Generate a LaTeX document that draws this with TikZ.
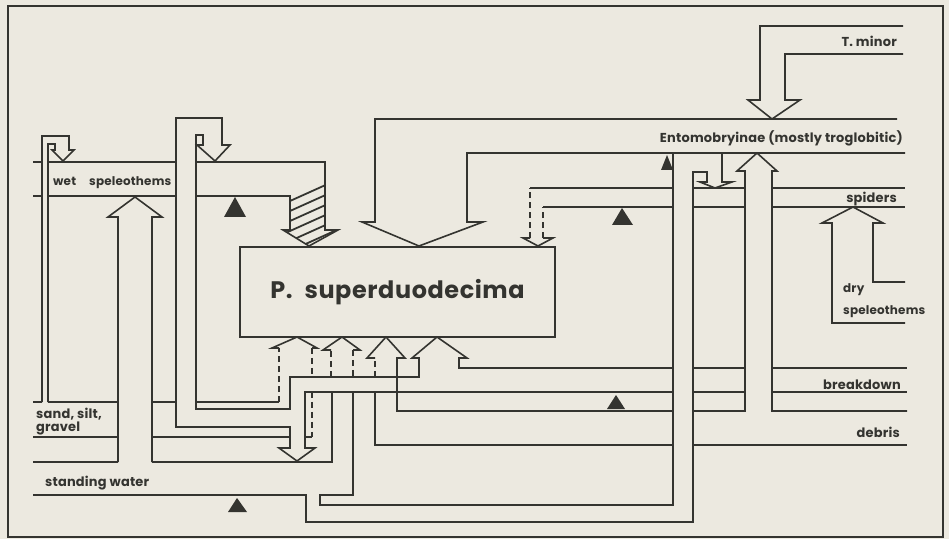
\documentclass[tikz,border=0pt]{standalone}
\usepackage{fontspec}
\setmainfont{Poppins}
\newfontfamily\labfont[LetterSpace=1.5]{Poppins}
\newfontfamily\bigfont[LetterSpace=2.5]{Poppins}
\definecolor{paper}{RGB}{236,233,224}
\definecolor{ink}{RGB}{52,52,48}
\begin{document}
\begin{tikzpicture}[x=1bp,y=-1bp,
  w/.style={draw=ink,line width=1.6pt,line join=miter,line cap=butt},
  dsh/.style={w,dash pattern=on 6pt off 4pt},
  lab/.style={text=ink,inner sep=0pt,font=\labfont\bfseries\fontsize{13}{15}\selectfont},
  slab/.style={lab,font=\labfont\bfseries\fontsize{12}{14}\selectfont}]
\fill[paper] (0,0) rectangle (949,539);
\draw[w,line width=1.2pt] (8,6) rectangle (943,537);

% central box
\node[w,minimum width=315bp,minimum height=90bp,inner sep=0pt,text=ink,
  font=\bigfont\bfseries\fontsize{24}{28}\selectfont] (box) at (397.5,292) {P.\hspace{0.5em}superduodecima};

% wet speleothems band
\draw[w] (33,162)--(42,162) (48,162)--(176,162) (33,196)--(42,196) (48,196)--(176,196);
% small loop: sand -> wet speleothems
\draw[w] (42,402)--(42,136)--(69,136)--(69,150)--(74,150)--(63,161)--(52,150)--(55,150)--(55,144)--(48,144)--(48,402);
% standing water -> wet speleothems
\draw[w] (118,462)--(118,217)--(108,217)--(135,197)--(162,217)--(152,217)--(152,462);
% big loop, breakdown channel, arrow D, down arrow
\draw[w] (673,368)--(459,368)--(459,358)--(467,358)--(437,337)--(412,358)--(419,358)--(419,377)--(290,377)--(290,409)--(196,409)--(196,135)--(203,135)--(203,145)--(197,145)--(215,161)--(230,145)--(222,145)--(222,118)--(176,118)--(176,427)--(290,427)--(290,448)--(279,448)--(297,461)--(315,448)--(305,448)--(305,392)--(673,392);
% sand band
\draw[w] (33,402)--(42,402) (48,402)--(118,402) (152,402)--(176,402) (33,437)--(118,437) (152,437)--(290,437);
% arrow A (dashed)
\draw[w] (196,402)--(279,402);
\draw[dsh] (279,402)--(279,348);
\draw[w] (279,348)--(272,348)--(297,337)--(317,348)--(312,348);
\draw[dsh] (312,348)--(312,377) (312,392)--(312,437);
\draw[w] (305,437)--(312,437);
% arrow B (dashed)
\draw[dsh] (331,377)--(331,350) (353,350)--(353,377);
\draw[w] (331,350)--(323,350)--(342,337)--(360,350)--(353,350);
% arrow C
\draw[dsh] (375,377)--(375,358);
\draw[w] (375,358)--(367,358)--(386,337)--(405,358)--(397,358)--(397,411)--(673,411);
\draw[w] (375,392)--(375,445)--(673,445);
% standing water
\draw[w] (33,462)--(118,462) (152,462)--(332,462)--(332,392);
\draw[w] (33,495)--(306,495)--(306,522)--(693,522)--(693,172)--(707,172)--(707,182)--(700,182)--(715,188)--(732,182)--(722,182)--(722,153);
\draw[w] (353,392)--(353,495)--(320,495)--(320,505)--(673,505)--(673,153);
% right bands
\draw[w] (693,368)--(745,368) (772,368)--(907,368) (693,392)--(745,392) (772,392)--(907,392) (693,445)--(907,445);
\draw[w] (693,411)--(745,411)--(745,171)--(737,171)--(757,153)--(777,171)--(772,171)--(772,411)--(907,411);
% spiders
\draw[dsh] (530,238)--(530,188) (543,238)--(543,207);
\draw[w] (530,238)--(523,238)--(538,246)--(553,238)--(543,238);
\draw[w] (530,188)--(673,188) (693,188)--(745,188) (772,188)--(905,188) (543,207)--(673,207) (693,207)--(745,207) (772,207)--(905,207);
% Entomobryinae
\draw[w] (897,119)--(375,119)--(375,222)--(362,222)--(419,246)--(483,222)--(467,222)--(467,153)--(905,153);
% T. minor
\draw[w] (903,26)--(760,26)--(760,100)--(748,100)--(772,119)--(800,100)--(785,100)--(785,54)--(903,54);
% dry speleothems
\draw[w] (905,282)--(873,282)--(873,223)--(883,223)--(853,207)--(822,223)--(832,223)--(832,323)--(905,323);
% unlabeled band with hatched arrow
\begin{scope}
\clip (290,196)--(325,180)--(325,230)--(338,230)--(309,246)--(283,230)--(290,230)--cycle;
\foreach \k in {0,...,12} \draw[ink,line width=1.8pt] (270,190+\k*10)--++(80,-36);
\end{scope}
\draw[w] (196,162)--(325,162)--(325,230)--(338,230)--(309,246)--(283,230)--(290,230)--(290,196)--(196,196);
% triangles
\fill[ink] (235,197)--(246,217)--(224,217)--cycle;
\fill[ink] (622,208)--(633,225)--(612,225)--cycle;
\fill[ink] (667,155)--(673,170)--(661,170)--cycle;
\fill[ink] (616,395)--(625,409)--(607,409)--cycle;
\fill[ink] (237,498)--(247,512)--(228,512)--cycle;
% labels
\node[slab,anchor=base west] (lwet) at (53,186) {wet};
\node[slab,anchor=base west] (lwsp) at (89,186) {speleothems};
\node[lab,anchor=base west] (lsand) at (36,418) {sand, silt,};
\node[lab,anchor=base west] (lgrav) at (36,431) {gravel};
\node[lab,anchor=base west] (lstw) at (45,486) {standing water};
\node[lab,anchor=base east] (lbrk) at (901,389) {breakdown};
\node[lab,anchor=base east] (ldeb) at (900,437) {debris};
\node[lab,anchor=base east] (lspi) at (897,203) {spiders};
\node[lab,anchor=base east] (lent) at (903,143) {Entomobryinae (mostly troglobitic)};
\node[lab,anchor=base east] (ltmi) at (897,47) {T.\ minor};
\node[slab,anchor=base west] (ldry) at (843,293) {dry};
\node[slab,anchor=base west] (ldsp) at (843,315) {speleothems};
\end{tikzpicture}
\end{document}
